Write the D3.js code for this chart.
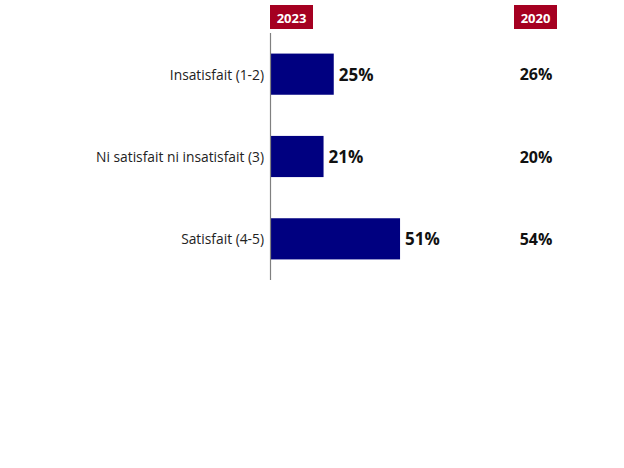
<!DOCTYPE html>
<html><head><meta charset="utf-8">
<script src="https://cdn.jsdelivr.net/npm/d3@7"></script>
<style>body{margin:0;background:#fff}svg{display:block}</style>
</head><body>
<svg id="c" width="624" height="468"></svg>
<script>
const categories = ["Insatisfait (1-2)", "Ni satisfait ni insatisfait (3)", "Satisfait (4-5)"];
const values2023 = [25, 21, 51];
const values2020 = [26, 20, 54];
const headers = ["2023", "2020"];

const svg = d3.select("#c");
const font = "'Open Sans', 'Noto Sans', sans-serif";
const x = d3.scaleLinear().domain([0, 100]).range([270, 525]);
const y = d3.scaleBand().domain(categories).range([33, 280]).paddingInner(0.5).paddingOuter(0.25);

svg.selectAll("rect.bar").data(categories).join("rect")
  .attr("class", "bar")
  .attr("x", x(0)).attr("y", d => y(d))
  .attr("width", (d, i) => x(values2023[i]) - x(0))
  .attr("height", y.bandwidth())
  .attr("fill", "#000080");

svg.append("line").attr("x1", 270.5).attr("x2", 270.5).attr("y1", 33).attr("y2", 280)
  .attr("stroke", "#808080").attr("stroke-width", 1.2);

svg.selectAll("text.cat").data(categories).join("text")
  .attr("class", "cat")
  .attr("x", 264).attr("y", d => y(d) + y.bandwidth() / 2)
  .attr("text-anchor", "end").attr("dominant-baseline", "central")
  .attr("font-family", font).attr("font-size", 13.8).attr("fill", "#222")
  .text(d => d);

svg.selectAll("text.v23").data(categories).join("text")
  .attr("class", "v23")
  .attr("x", (d, i) => x(values2023[i]) + 5).attr("y", d => y(d) + y.bandwidth() / 2)
  .attr("dominant-baseline", "central")
  .attr("font-family", font).attr("font-size", 17).attr("font-weight", "bold").attr("fill", "#111")
  .text((d, i) => values2023[i] + "%");

svg.selectAll("text.v20").data(categories).join("text")
  .attr("class", "v20")
  .attr("x", 536).attr("y", d => y(d) + y.bandwidth() / 2)
  .attr("text-anchor", "middle").attr("dominant-baseline", "central")
  .attr("font-family", font).attr("font-size", 16).attr("font-weight", "bold").attr("fill", "#111")
  .text((d, i) => values2020[i] + "%");

const hx = [291.5, 535.5];
headers.forEach((h, i) => {
  svg.append("rect").attr("x", hx[i] - 21.5).attr("y", 5).attr("width", 43).attr("height", 24).attr("fill", "#A50021");
  svg.append("text").attr("x", hx[i]).attr("y", 17.5)
    .attr("text-anchor", "middle").attr("dominant-baseline", "central")
    .attr("font-family", font).attr("font-size", 13).attr("font-weight", "bold").attr("fill", "#fff")
    .text(h);
});
</script>
</body></html>
